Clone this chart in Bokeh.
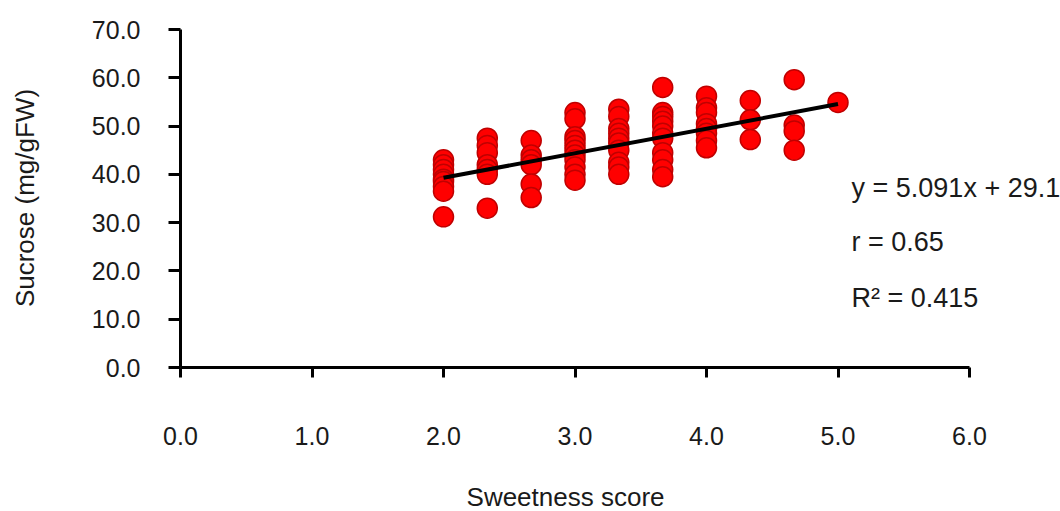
import math
from bokeh.plotting import figure
from bokeh.models import Range1d, FixedTicker, PrintfTickFormatter, Label, ColumnDataSource
from bokeh.embed import file_html
from bokeh.resources import INLINE

# ---- data ----
sweetness = (
    [2.0] * 9 + [2.333] * 7 + [2.667] * 6 + [3.0] * 11 + [3.333] * 10 +
    [3.667] * 11 + [4.0] * 8 + [4.333] * 3 + [4.667] * 4 + [5.0] * 1
)
sucrose = [
    43.0, 42.0, 41.0, 40.0, 39.0, 38.5, 37.5, 36.5, 31.2,            # 2.0
    47.5, 46.0, 44.5, 42.0, 41.0, 40.0, 33.0,                        # 2.333
    47.0, 44.0, 43.0, 42.0, 38.0, 35.2,                              # 2.667
    52.8, 51.5, 47.8, 47.0, 46.0, 45.0, 44.0, 43.0, 41.5, 40.0, 38.8,  # 3.0
    53.5, 52.0, 49.5, 48.5, 47.5, 46.5, 45.0, 42.5, 41.5, 40.0,      # 3.333
    58.0, 52.8, 52.0, 51.0, 50.0, 48.5, 47.5, 44.5, 43.0, 41.0, 39.5,  # 3.667
    56.2, 53.8, 52.8, 50.5, 49.5, 48.5, 47.0, 45.5,                  # 4.0
    55.3, 51.3, 47.2,                                                # 4.333
    59.6, 50.2, 49.0, 45.0,                                          # 4.667
    54.9,                                                            # 5.0
]
slope = 5.091
intercept = 29.1
trend_x = [2.0, 5.0]
trend_y = [slope * v + intercept for v in trend_x]

x_ticks = [0, 1, 2, 3, 4, 5, 6]
y_ticks = [0, 10, 20, 30, 40, 50, 60, 70]

annotation_lines = ["y = 5.091x + 29.1", "r = 0.65", "R\u00b2 = 0.415"]

x_title = "Sweetness score"
y_title = "Sucrose (mg/gFW)"

FONT = "Liberation Sans"
TEXT = "#1a1a1a"

# The frame covers the whole canvas; both axes are pinned at 0 so that
# every text (tick labels, titles, fit statistics) lies inside the frame.
W, H = 1060, 511
X0_PX, X_PX_PER_UNIT = 180, 131.5      # x = 0 at 180 px
Y0_PX, Y_PX_PER_UNIT = 367, 338 / 70   # y = 0 at 367 px
x_lo = -X0_PX / X_PX_PER_UNIT
x_hi = (W - X0_PX) / X_PX_PER_UNIT
y_hi = Y0_PX / Y_PX_PER_UNIT
y_lo = -(H - Y0_PX) / Y_PX_PER_UNIT

p = figure(
    width=W, height=H,
    x_range=Range1d(x_lo, x_hi), y_range=Range1d(y_lo, y_hi),
    output_backend="svg", toolbar_location=None,
    min_border_left=0, min_border_right=0,
    min_border_top=0, min_border_bottom=0,
    background_fill_color="white", border_fill_color="white",
)
p.outline_line_color = None
p.grid.visible = False

src = ColumnDataSource(dict(x=sweetness, y=sucrose))
p.scatter("x", "y", source=src, size=20, fill_color="#ff0000",
          line_color="#c00000", line_width=1.5)
p.line(trend_x, trend_y, line_color="black", line_width=4)

for ax in (p.xaxis[0], p.yaxis[0]):
    ax.axis_line_width = 3
    ax.axis_line_color = "black"
    ax.major_tick_line_width = 3
    ax.major_tick_line_color = "black"
    ax.minor_tick_line_color = None
    ax.major_tick_in = 0
    ax.formatter = PrintfTickFormatter(format="%.1f")
    ax.major_label_text_font = FONT
    ax.major_label_text_color = TEXT
    ax.major_label_text_font_size = "25px"
    ax.fixed_location = 0

p.xaxis.ticker = FixedTicker(ticks=x_ticks)
p.yaxis.ticker = FixedTicker(ticks=y_ticks)
p.xaxis.bounds = (0, 6)
p.yaxis.bounds = (0, 70)

p.xaxis.major_tick_out = 10
p.xaxis.major_label_standoff = 49

p.yaxis.major_tick_out = 12
p.yaxis.major_label_standoff = 28

# axis titles
p.add_layout(Label(x=2.928, y=-26.9, text=x_title, text_font=FONT,
                   text_font_size="26px", text_color=TEXT,
                   text_baseline="middle", text_align="center"))
p.add_layout(Label(x=-1.186, y=35.1, text=y_title, text_font=FONT,
                   text_font_size="26px", text_color=TEXT, angle=math.pi / 2,
                   text_baseline="middle", text_align="center"))

# fit statistics
ann_y = [37.1, 25.9, 14.3]
for txt, yy in zip(annotation_lines, ann_y):
    p.add_layout(Label(x=5.103, y=yy, text=txt, text_font=FONT,
                       text_font_size="27px", text_color=TEXT,
                       text_baseline="middle", text_align="left"))

open("out.html", "w").write(file_html(p, INLINE))
